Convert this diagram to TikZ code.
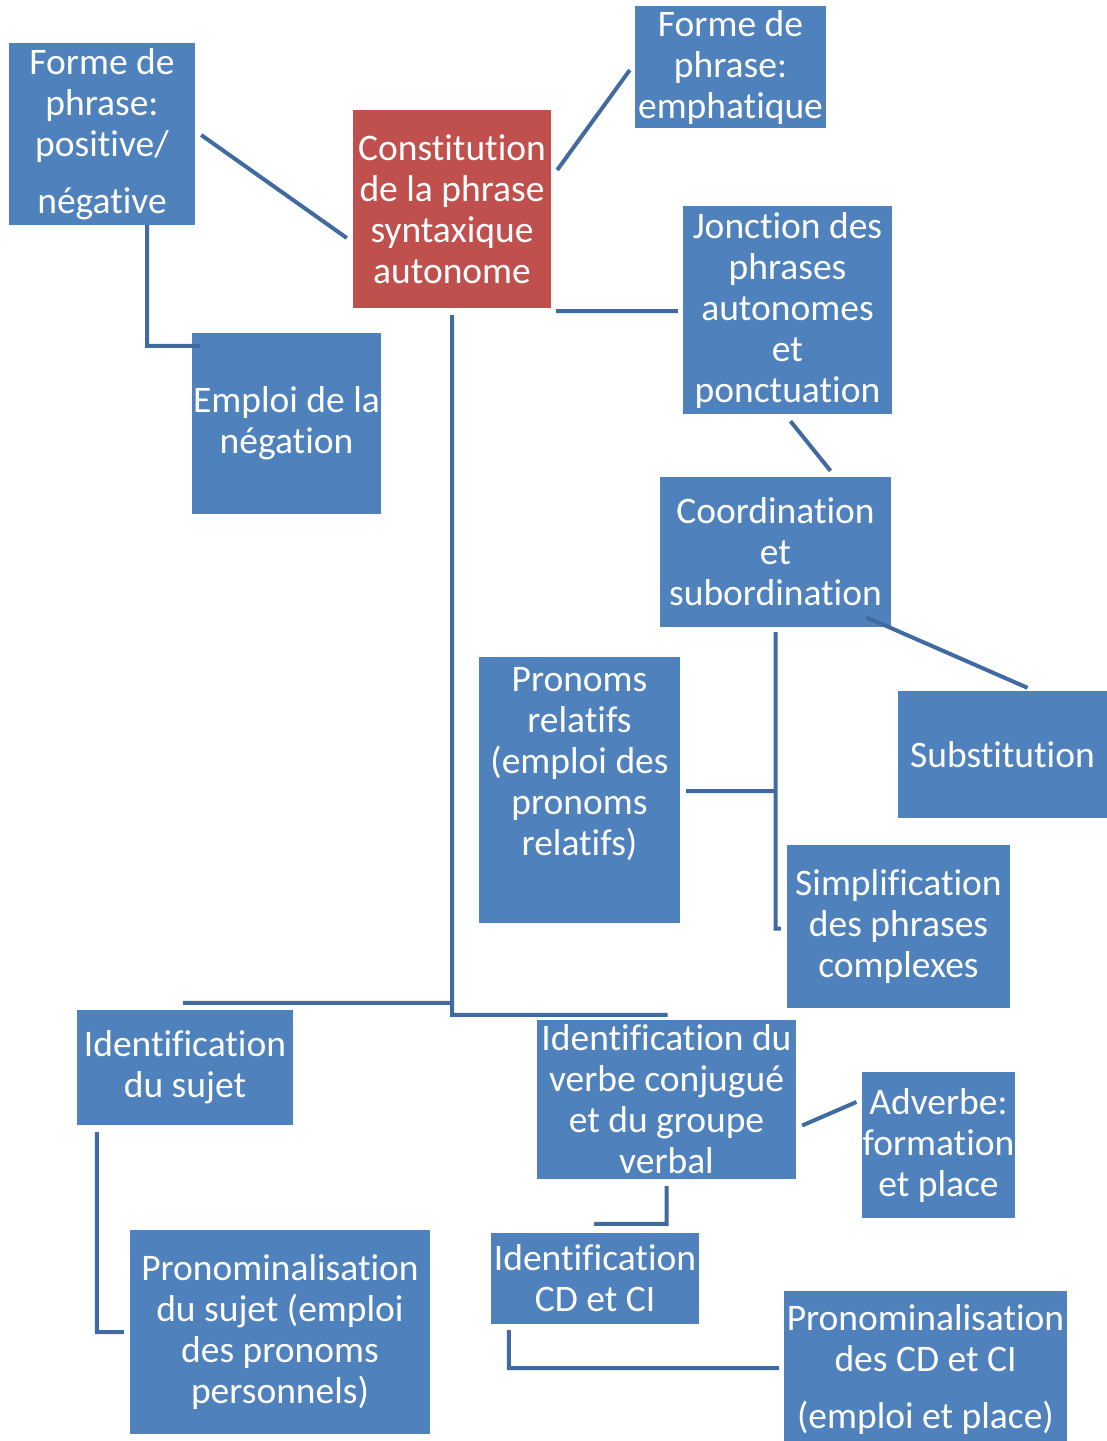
\documentclass[tikz,border=0pt]{standalone}
\usepackage{fontspec}
\setmainfont{Carlito}[Ligatures=NoCommon]
\usepackage{tikz}
\usetikzlibrary{positioning}

\definecolor{boxblue}{RGB}{79,129,189}
\definecolor{boxred}{RGB}{192,80,77}
\definecolor{linkblue}{RGB}{65,106,160}

\tikzset{
    box/.style={fill=boxblue, text=white, inner sep=1pt, align=center,
        font=\fontsize{37.5}{41}\selectfont},
    redbox/.style={box, fill=boxred},
    link/.style={draw=linkblue, line width=4pt}
}

\begin{document}
\begin{tikzpicture}[x=1pt,y=-1pt]
        \useasboundingbox (0,0) rectangle (1107,1441);

        \node [box, minimum width=186, minimum height=182] (forme) at (102,134) {Forme de\\phrase:\\positive/\\[16pt]négative};
        \node [redbox, minimum width=198, minimum height=198] (const) at (452,209) {Constitution\\de la phrase\\syntaxique\\autonome};
        \node [box, minimum width=191, minimum height=122] (emph) at (730.5,67) {Forme de\\phrase:\\emphatique};
        \node [box, minimum width=209, minimum height=208] (jonc) at (787.5,310) {Jonction des\\phrases\\autonomes\\et\\ponctuation};
        \node [box, minimum width=189, minimum height=181] (emploi) at (286.5,423.5) {Emploi de la\\négation};
        \node [box, minimum width=231, minimum height=150] (coord) at (775.5,552) {Coordination\\et\\subordination};
        \node [box, minimum width=201, minimum height=266] (rel) at (579.5,790) {Pronoms\\relatifs\\(emploi des\\pronoms\\relatifs)\\[16pt]\mbox{}};
        \node [box, minimum width=209, minimum height=127] (subst) at (1002.5,754.5) {Substitution};
        \node [box, minimum width=223, minimum height=163] (simpl) at (898.5,926.5) {Simplification\\des phrases\\complexes};
        \node [box, minimum width=216, minimum height=115] (sujet) at (185,1067.5) {Identification\\du sujet};
        \node [box, minimum width=259, minimum height=159] (verbe) at (666.5,1099.5) {Identification du\\verbe conjugué\\et du groupe\\verbal};
        \node [box, minimum width=153, minimum height=146] (adv) at (938.5,1145) {Adverbe:\\formation\\et place};
        \node [box, minimum width=208, minimum height=91] (cd) at (595,1278.5) {Identification\\CD et CI};
        \node [box, minimum width=300, minimum height=204] (psujet) at (280,1332) {Pronominalisation\\du sujet (emploi\\des pronoms\\personnels)};
        \node [box, minimum width=283, minimum height=156] (pcd) at (925.5,1369) {Pronominalisation\\des CD et CI\\[16pt](emploi et place)};

    \draw [link]
        ([shift={(6,1)}]forme.east) -- ([shift={(-6,29)}]const.west)
        ([shift={(45,0)}]forme.south) |- ([shift={(8,13)}]emploi.north west)
        ([shift={(6,-39)}]const.east) -- ([shift={(-5,3)}]emph.west)
        ([shift={(5,3)}]const.south east) -- ([shift={(-5,1)}]jonc.west)
        ([shift={(0,7)}]const.south) |- ([shift={(1,-5)}]verbe.north)
        ([shift={(-2,-7)}]sujet.north) coordinate (s1) -- (s1 -| const.south)

        ([shift={(3,7)}]jonc.south) -- ([shift={(55,-6)}]coord.north)
        ([shift={(-25,-10)}]coord.south east) -- ([shift={(25,-3)}]subst.north)
        ([shift={(0,5)}]coord.south) |- ([shift={(-6,2)}]simpl.west)
        ([shift={(6,1)}]rel.east) coordinate (r1) -- (r1 -| coord.south)

        ([shift={(6,26)}]verbe.east) -- ([shift={(-5,-43)}]adv.west)
        ([shift={(0,7)}]verbe.south) |- ([shift={(-1,-9)}]cd.north)
        ([shift={(20,7)}]sujet.south west) |- ([shift={(-6,0)}]psujet.west)
        ([shift={(18,6)}]cd.south west) |- ([shift={(-5,-1)}]pcd.west)
        ;
    \end{tikzpicture}
\end{document}
